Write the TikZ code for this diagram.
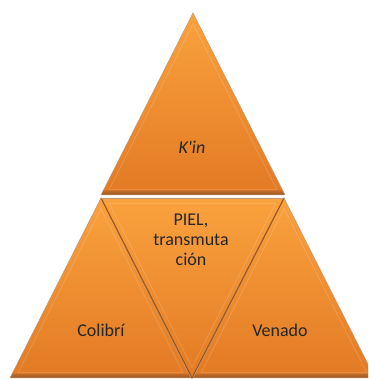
\documentclass[tikz,border=0pt]{standalone}
\usepackage{fontspec}
\setmainfont{Carlito}
\usetikzlibrary{calc}
\definecolor{orTop}{RGB}{250,162,62}
\definecolor{orBot}{RGB}{226,122,36}
\definecolor{bevDark}{RGB}{150,86,34}
\definecolor{bevMid}{RGB}{196,110,42}
\tikzset{
  lbl/.style={font=\fontsize{18}{20}\selectfont, text=black!85, inner sep=0pt, anchor=base, align=center},
  tri/.style={top color=orTop, bottom color=orBot},
  edge/.style={draw=bevDark!60, line width=0.5pt},
  seam/.style={draw=bevDark, line width=1.1pt},
  hilite/.style={draw=white, opacity=0.14, line width=0.9pt}
}
\newcommand{\uptri}[3]{%
  \shade[tri] (#1) -- (#2) -- (#3) -- cycle;
  \shade[top color=bevMid, bottom color=bevDark] (#2) -- (#3) -- ($(#3)!0.025!(#1)$) -- ($(#2)!0.025!(#1)$) -- cycle;
  \draw[hilite] ($(#1)!0.06!($(#2)!0.5!(#3)$)$) -- ($(#2)!0.06!($(#1)!0.5!(#3)$)$) -- ($(#3)!0.06!($(#1)!0.5!(#2)$)$) -- cycle;
  \draw[edge] (#1) -- (#2) -- (#3) -- cycle;
}
\begin{document}
\begin{tikzpicture}[x=1pt,y=1pt]
\useasboundingbox (0,0) rectangle (368,379);
\clip (0,0) rectangle (368,379);
% corner coordinates
\coordinate (tA) at (193,366);
\coordinate (tL) at (101,184);
\coordinate (tR) at (285,184);
\coordinate (lA) at (101,181);
\coordinate (lL) at (10,1);
\coordinate (lR) at (191,1);
\coordinate (rA) at (284,181);
\coordinate (rL) at (193,1);
\coordinate (rR) at (375,1);
\coordinate (mL) at (101,181);
\coordinate (mR) at (284,181);
\coordinate (mB) at (192,1);
% triangles
\uptri{lA}{lL}{lR}
\uptri{rA}{rL}{rR}
\shade[tri] (mL) -- (mR) -- (mB) -- cycle;
\draw[hilite] ($(mL)!0.06!($(mR)!0.5!(mB)$)$) -- ($(mR)!0.06!($(mL)!0.5!(mB)$)$) -- ($(mB)!0.06!($(mL)!0.5!(mR)$)$) -- cycle;
\draw[seam] (mL) -- (mB) -- (mR);
\draw[edge] (mL) -- (mR);
\uptri{tA}{tL}{tR}
% labels
\node[lbl] (kin) at (192,225) {\itshape K\textquotesingle in};
\node[lbl] (piel) at (191,113) {PIEL,\\transmuta\\ción};
\node[lbl] (colibri) at (101,42) {Colibrí};
\node[lbl] (venado) at (280,42) {Venado};
\end{tikzpicture}
\end{document}
